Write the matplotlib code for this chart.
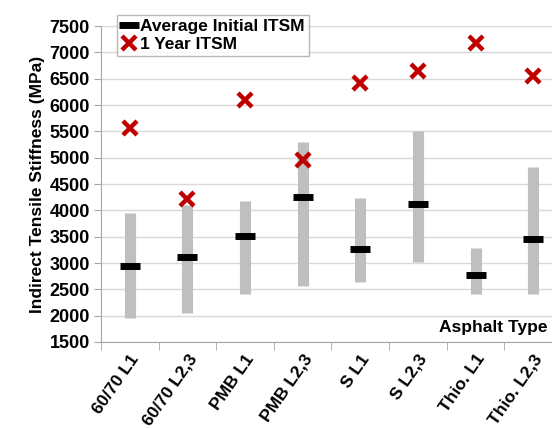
import numpy as np
import matplotlib
matplotlib.use('Agg')
import matplotlib.pyplot as plt

plt.rcParams['font.family'] = ['Liberation Sans Narrow', 'Liberation Sans', 'DejaVu Sans']
plt.rcParams['font.weight'] = 'bold'

categories = ['60/70 L1', '60/70 L2,3', 'PMB L1', 'PMB L2,3',
              'S L1', 'S L2,3', 'Thio. L1', 'Thio. L2,3']
range_low = [1950, 2050, 2410, 2560, 2630, 3010, 2410, 2410]
range_high = [3950, 4100, 4180, 5290, 4240, 5500, 3280, 4820]
avg_initial = [2940, 3110, 3510, 4250, 3260, 4130, 2780, 3450]
one_year = [5570, 4215, 6090, 4960, 6420, 6650, 7170, 6560]

GRAY_BAR = '#bfbfbf'
RED = '#c00000'
AXIS = '#a6a6a6'
GRID = '#d9d9d9'

fig = plt.figure(figsize=(5.52, 4.28), dpi=100, facecolor='white')
# axes run slightly past the right edge, as in the cropped original
ax = fig.add_axes([0.183, 0.201, 0.835, 0.738])

x = np.arange(len(categories))
ax.vlines(x, range_low, range_high, color=GRAY_BAR, lw=8, zorder=2)
ax.plot(x, avg_initial, linestyle='none', marker='_', ms=14, mew=5,
        color='black', label='Average Initial ITSM', zorder=3)
ax.plot(x, one_year, linestyle='none', marker='x', ms=10, mew=3.2,
        color=RED, label='1 Year ITSM', zorder=3)

ax.set_xlim(-0.5, len(categories) - 0.5)
ax.set_ylim(1500, 7500)
ax.set_yticks(np.arange(1500, 7501, 500))
ax.yaxis.grid(True, color=GRID, lw=1)
ax.set_axisbelow(True)

ax.set_xticks(x)
ax.set_xticklabels(categories, rotation=55, ha='right', va='top',
                   rotation_mode='anchor', fontsize=12.5, fontweight='bold')
ax.set_xticks(np.arange(-0.5, len(categories), 1), minor=True)
ax.tick_params(axis='x', which='major', length=0, pad=7)
ax.tick_params(axis='x', which='minor', length=6, color=AXIS, direction='out')
ax.tick_params(axis='y', length=5, color=AXIS, labelsize=13, pad=3)
for lab in ax.get_yticklabels():
    lab.set_fontweight('bold')

for s in ['top', 'right']:
    ax.spines[s].set_visible(False)
ax.spines['left'].set_color(AXIS)
ax.spines['bottom'].set_color(AXIS)

ax.set_ylabel('Indirect Tensile Stiffness (MPa)', fontsize=12.5,
              fontweight='bold', labelpad=3)
# x-axis title sits inside the plot, bottom right
ax.text(7.25, 1770, 'Asphalt Type', fontsize=12.5, fontweight='bold',
        ha='right', va='center')

leg = ax.legend(loc='upper left', bbox_to_anchor=(0.212, 0.966),
                bbox_transform=fig.transFigure, fontsize=12.5, frameon=True,
                fancybox=False, edgecolor=AXIS, handlelength=0.9,
                handletextpad=0.2, borderpad=0.25, labelspacing=0.15,
                borderaxespad=0)
leg.get_frame().set_linewidth(1)
for t in leg.get_texts():
    t.set_fontweight('bold')

fig.savefig('out.png', dpi=100, facecolor='white')
